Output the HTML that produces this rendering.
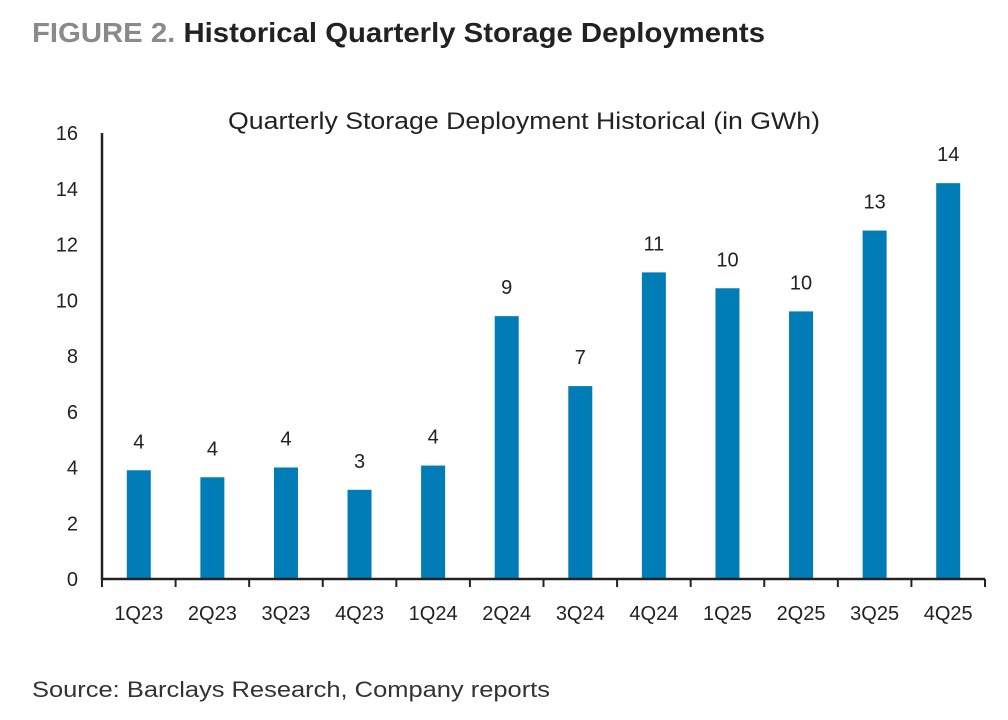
<!DOCTYPE html>
<html><head><meta charset="utf-8"><style>
body{margin:0;background:#fff;}
svg{display:block;font-family:"Liberation Sans",sans-serif;}
</style></head><body>
<svg id="chart" width="1008" height="720">
<text x="32" y="42" font-size="28" font-weight="bold" fill="#222" textLength="733" lengthAdjust="spacingAndGlyphs"><tspan fill="#8a8a8a">FIGURE 2.</tspan> Historical Quarterly Storage Deployments</text>
<text x="524" y="129" font-size="24" fill="#222" text-anchor="middle" textLength="592" lengthAdjust="spacingAndGlyphs">Quarterly Storage Deployment Historical (in GWh)</text>
<text x="32" y="697" font-size="22" fill="#333" textLength="518" lengthAdjust="spacingAndGlyphs">Source: Barclays Research, Company reports</text>
<g id="plot"></g>
</svg>
<script>
const categories=["1Q23","2Q23","3Q23","4Q23","1Q24","2Q24","3Q24","4Q24","1Q25","2Q25","3Q25","4Q25"];
const values=[3.9,3.65,4.0,3.2,4.07,9.43,6.92,11.0,10.43,9.6,12.5,14.2];
const valueLabels=["4","4","4","3","4","9","7","11","10","10","13","14"];
const yTicks=[0,2,4,6,8,10,12,14,16];
const NS="http://www.w3.org/2000/svg";
const x0=102,x1=985,y0=579,yTop=133,yMax=16;
const band=(x1-x0)/categories.length;
const yS=v=>y0-(v/yMax)*(y0-yTop);
const xC=i=>x0+band*(i+0.5);
const g=document.getElementById('plot');
function mk(t,a){const e=document.createElementNS(NS,t);for(const k in a)e.setAttribute(k,a[k]);g.appendChild(e);return e;}
values.forEach((v,i)=>{
 const r=mk('rect',{x:xC(i)-12,y:yS(v),width:24,height:y0-yS(v),fill:'#007db6'});
 
 
 const t=mk('text',{x:xC(i),y:yS(v)-22,'font-size':20,'text-anchor':'middle',fill:'#222'});
 t.textContent=valueLabels[i];
 
 
 const c=mk('text',{x:xC(i),y:y0+41,'font-size':20,'text-anchor':'middle',fill:'#222'});
 c.textContent=categories[i];
 
 
});
for(let i=0;i<=categories.length;i++){
 const tk=mk('line',{x1:x0+band*i,x2:x0+band*i,y1:y0,y2:y0+8,stroke:'#222','stroke-width':2});
 
 
}
yTicks.forEach(v=>{
 const t=mk('text',{x:78,y:yS(v)+7,'font-size':20,'text-anchor':'end',fill:'#222'});
 t.textContent=v;
 
 
});
const ya=mk('line',{x1:x0,x2:x0,y1:yTop,y2:y0+1,stroke:'#222','stroke-width':2.5});


const xa=mk('line',{x1:x0-1,x2:x1,y1:y0,y2:y0,stroke:'#222','stroke-width':2.5});


</script>
</body></html>
